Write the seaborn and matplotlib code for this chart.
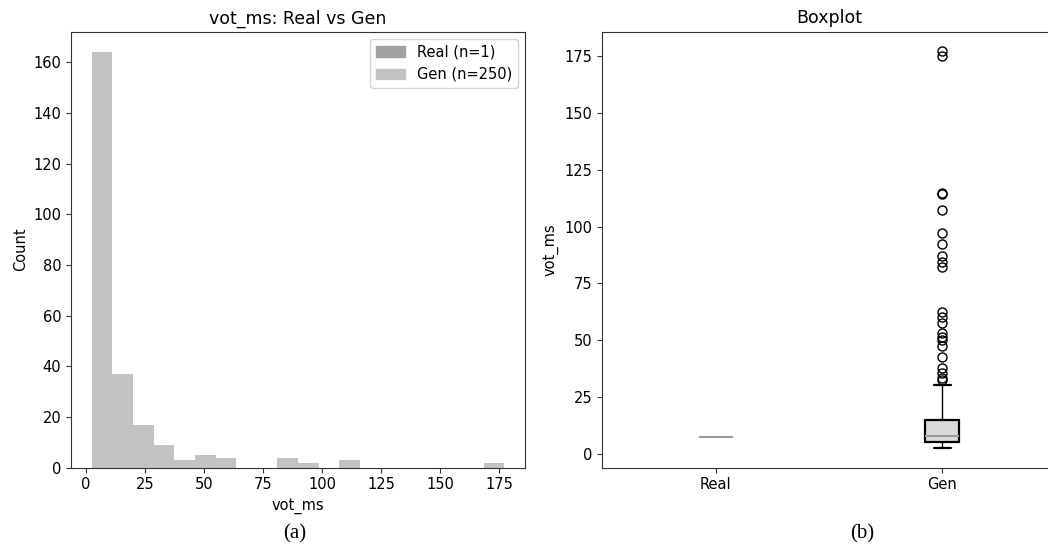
import matplotlib
matplotlib.use("Agg")
import matplotlib.pyplot as plt
import seaborn as sns
import numpy as np
from matplotlib.patches import Patch

sns.set_style("ticks")
plt.rcParams['font.family'] = ['DejaVu Sans']
plt.rcParams['text.color'] = 'black'
plt.rcParams['axes.labelcolor'] = 'black'
plt.rcParams['xtick.color'] = '#333333'
plt.rcParams['ytick.color'] = '#333333'
plt.rcParams['xtick.labelcolor'] = 'black'
plt.rcParams['ytick.labelcolor'] = 'black'

# Real sample (n=1) and generated histogram counts (n=250)
real_values = [7.5]
gen_range = (2.5, 177.2)
gen_counts = [164, 37, 17, 9, 3, 5, 4, 0, 0, 4, 2, 0, 3, 0, 0, 0, 0, 0, 0, 2]

# Boxplot summary statistics
box_labels = ['Real', 'Gen']
box_med = [7.5, 7.6]
box_q1 = [7.5, 5.0]
box_q3 = [7.5, 15.0]
box_whislo = [7.5, 2.5]
box_whishi = [7.5, 30.1]
gen_fliers = [32.3, 33.5, 35.3, 37.5, 42.4, 47.4, 50.0, 51.2, 53.0, 57.4,
              60.3, 62.2, 82.4, 84.6, 87.1, 92.4, 97.1, 107.4, 114.3, 115.0,
              175.3, 177.2]

real_color = '#a2a2a2'
gen_color = '#c3c3c3'

fig = plt.figure(figsize=(10.48, 5.5), dpi=100)
ax1 = fig.add_axes([0.0678, 0.1496, 0.4332, 0.793])
ax2 = fig.add_axes([0.5747, 0.1496, 0.4323, 0.793])

# (a) histogram
nb = len(gen_counts)
edges = np.linspace(gen_range[0], gen_range[1], nb + 1)
centers = (edges[:-1] + edges[1:]) / 2
sns.histplot(x=centers, weights=gen_counts, bins=nb, binrange=gen_range,
             color=gen_color, alpha=1, linewidth=0, ax=ax1)
sns.histplot(x=real_values, bins=20, color=real_color, alpha=1,
             linewidth=0, ax=ax1, zorder=3)
ax1.set_title('vot_ms: Real vs Gen', fontsize=12.5)
ax1.set_xlabel('vot_ms', fontsize=10.5)
ax1.set_ylabel('Count', fontsize=10.5)
ax1.set_xticks([0, 25, 50, 75, 100, 125, 150, 175])
ax1.set_yticks(range(0, 161, 20))
ax1.tick_params(labelsize=10.5)
ax1.legend(handles=[Patch(color=real_color, label=f'Real (n={len(real_values)})'),
                    Patch(color=gen_color, label=f'Gen (n={sum(gen_counts)})')],
           loc='upper right', fontsize=10.5)

# (b) boxplot
stats = []
for i, lab in enumerate(box_labels):
    stats.append(dict(label=lab, med=box_med[i], q1=box_q1[i], q3=box_q3[i],
                      whislo=box_whislo[i], whishi=box_whishi[i],
                      fliers=gen_fliers if lab == 'Gen' else []))
bp = ax2.bxp(stats, positions=[1, 2], widths=0.15, patch_artist=True,
             boxprops=dict(facecolor='#dadada', edgecolor='black', linewidth=1.6),
             medianprops=dict(color='#9a9a9a', linewidth=1.5),
             whiskerprops=dict(color='black', linewidth=1),
             capprops=dict(color='black', linewidth=1.6),
             flierprops=dict(marker='o', markerfacecolor='none',
                             markeredgecolor='black', markersize=6.5))
# the Real box has no height: hide its outline so only the median shows
bp['boxes'][0].set_edgecolor('none')
for c in bp['caps'][:2] + bp['whiskers'][:2]:
    c.set_visible(False)
ax2.set_xlim(0.5, 2.5)
ax2.set_title('Boxplot', fontsize=12.5)
ax2.set_ylabel('vot_ms', fontsize=10.5)
ax2.set_yticks([0, 25, 50, 75, 100, 125, 150, 175])
ax2.tick_params(labelsize=10.5)

for ax in (ax1, ax2):
    for s in ax.spines.values():
        s.set_visible(True)
        s.set_color('#333333')

fig.text(0.2815, 0.029, '(a)', family='Liberation Serif', fontsize=15,
         ha='center', va='center')
fig.text(0.8225, 0.029, '(b)', family='Liberation Serif', fontsize=15,
         ha='center', va='center')

fig.savefig('out.png', dpi=100)
